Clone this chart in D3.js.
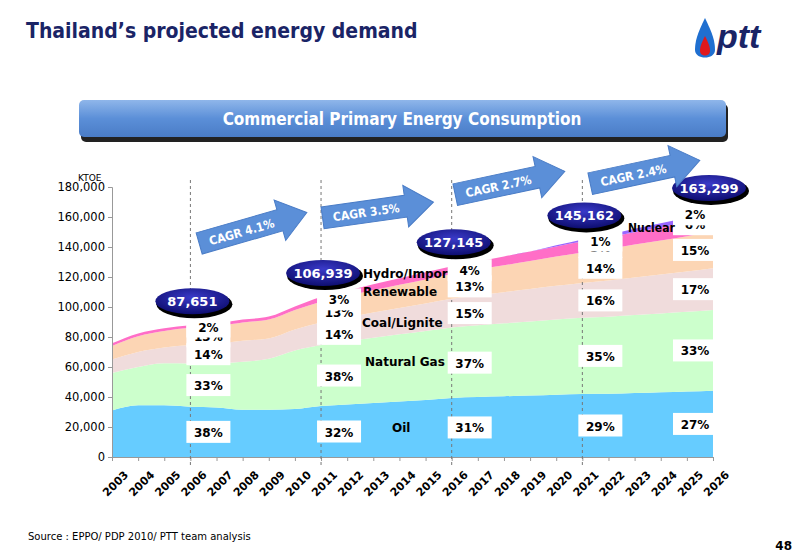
<!DOCTYPE html>
<html><head><meta charset="utf-8">
<script src="https://cdn.jsdelivr.net/npm/d3@7"></script>
<style>body{margin:0;background:#fff}svg{display:block;font-family:Verdana,"DejaVu Sans",sans-serif}</style>
</head><body><svg id="c" width="800" height="554"></svg>
<script>
const years = d3.range(2003, 2027).map(String);
const seriesNames = ['Oil', 'Natural Gas', 'Coal/Lignite', 'Renewable', 'Hydro/Import', 'Nuclear'];
const oil = [31000,34500,34500,33500,33000,31500,31500,32000,34000,35000,36000,37000,38000,39400,40000,40500,41000,41500,42000,42100,42600,43100,43600,44100];
const gas = [25000,25500,28000,28900,29500,32000,34000,39000,40600,42000,43500,44800,46000,47000,47800,48600,49400,50200,50800,51400,52000,52600,53200,53900];
const coal = [9000,10000,10500,12300,13000,14000,13500,14000,15000,16000,16800,17600,18400,19100,20000,20800,21600,22400,23200,24100,25000,25900,26800,27800];
const renewable = [9000,10500,11000,11400,11800,12200,12600,13000,13900,14400,15000,15500,16000,16500,17200,17900,18700,19500,20300,21100,22000,22800,23600,24500];
const hydro = [1800,1900,1900,1750,1800,1900,2000,2400,3200,3500,3900,4300,4700,5100,5500,5900,6300,6800,7300,7800,8300,8800,9300,9800];
const nuclear = [0,0,0,0,0,0,0,0,0,0,0,0,0,0,0,0,0,700,1450,1800,2200,2600,3000,3300];
const markYears = ['2006', '2011', '2016', '2021', '2026'];
const totals = ['87,651', '106,939', '127,145', '145,162', '163,299'];
const shares = [ // per mark year, bottom to top
  ['38%','33%','14%','13%','2%'],
  ['32%','38%','14%','13%','3%'],
  ['31%','37%','15%','13%','4%'],
  ['29%','35%','16%','14%','5%','1%'],
  ['27%','33%','17%','15%','6%','2%']];
const cagrs = ['CAGR 4.1%', 'CAGR  3.5%', 'CAGR 2.7%', 'CAGR 2.4%'];
const yTicks = d3.range(0, 180001, 20000);
const colors = ['#66ccff', '#ccffcc', '#f0dcdc', '#fcd5b4', '#ff6ec7', '#9966ff'];
const cond = '"DejaVu Sans Condensed","DejaVu Sans",sans-serif';

const svg = d3.select('#c');
const defs = svg.append('defs');
const gBan = defs.append('linearGradient').attr('id', 'ban').attr('x1', 0).attr('x2', 0).attr('y1', 0).attr('y2', 1);
gBan.append('stop').attr('offset', 0).attr('stop-color', '#8fb6ea');
gBan.append('stop').attr('offset', 0.5).attr('stop-color', '#5b8fd8');
gBan.append('stop').attr('offset', 1).attr('stop-color', '#4a7cc6');
const gEl = defs.append('radialGradient').attr('id', 'ell').attr('cx', 0.5).attr('cy', 0.35).attr('r', 0.7);
gEl.append('stop').attr('offset', 0).attr('stop-color', '#3a3ac8');
gEl.append('stop').attr('offset', 1).attr('stop-color', '#0a0a6a');

// header
svg.append('text').attr('x', 26).attr('y', 38).attr('font-size', 21).attr('font-weight', 'bold')
  .attr('font-family', cond).attr('fill', '#1a2466').text('Thailand’s projected energy demand');
// logo
const logo = svg.append('g').attr('transform', 'translate(693,0)');
logo.append('path').attr('d', 'M12,18 C4,34 2,42 2,50 C2,60 22,60 22,50 C22,42 20,34 12,18Z').attr('fill', '#1f6fd0');
logo.append('path').attr('d', 'M12,36 C8,44 7,47 7,51 C7,57 17,57 17,51 C17,47 16,44 12,36Z').attr('fill', '#e0181c');
logo.append('text').attr('x', 24).attr('y', 48).attr('font-size', 34).attr('font-weight', 'bold')
  .attr('font-style', 'italic').attr('fill', '#1a2466').attr('font-family', 'Arial,"Liberation Sans"').text('ptt');

// banner
svg.append('rect').attr('x', 81).attr('y', 104).attr('width', 647).attr('height', 38).attr('rx', 5).attr('fill', '#222');
svg.append('rect').attr('x', 79).attr('y', 100).attr('width', 647).attr('height', 37).attr('rx', 5).attr('fill', 'url(#ban)');
svg.append('text').attr('x', 402).attr('y', 125).attr('text-anchor', 'middle').attr('font-size', 17)
  .attr('font-weight', 'bold').attr('font-family', cond).attr('fill', '#fff').text('Commercial Primary Energy Consumption');

const x = d3.scalePoint().domain(years).range([112, 713]);
const y = d3.scaleLinear().domain([0, 180000]).range([457, 187]);

const rows = years.map((yr, i) => ({ year: yr, 'Oil': oil[i], 'Natural Gas': gas[i], 'Coal/Lignite': coal[i],
  'Renewable': renewable[i], 'Hydro/Import': hydro[i], 'Nuclear': nuclear[i] }));
const stack = d3.stack().keys(seriesNames)(rows);
const area = d3.area().x(d => x(d.data.year)).y0(d => y(d[0])).y1(d => y(d[1])).curve(d3.curveMonotoneX);
svg.append('g').selectAll('path').data(stack).join('path').attr('d', area).attr('fill', (d, i) => colors[i]);

// axes
const ya = svg.append('g').attr('transform', 'translate(112,0)')
  .call(d3.axisLeft(y).tickValues(yTicks).tickSize(4).tickFormat(d3.format(',')));
ya.selectAll('text').attr('font-size', 11.5).attr('fill', '#000').attr('font-family', 'Verdana,"DejaVu Sans"');
ya.select('.domain').attr('stroke', '#999');
ya.selectAll('line').attr('stroke', '#999');
const xa = svg.append('g').attr('transform', 'translate(0,457)').call(d3.axisBottom(x).tickSize(4));
xa.select('.domain').attr('stroke', '#999');
xa.selectAll('line').attr('stroke', '#999');
xa.selectAll('text').attr('font-size', 11).attr('font-weight', 'bold').attr('fill', '#000')
  .attr('font-family', 'Verdana,"DejaVu Sans"')
  .attr('text-anchor', 'end').attr('transform', 'translate(6,8) rotate(-45)');
svg.append('text').attr('x', 78).attr('y', 181).attr('font-size', 9).text('KTOE');

// dashed verticals
svg.append('g').selectAll('line').data(markYears.slice(0, 4)).join('line')
  .attr('x1', d => x(d)).attr('x2', d => x(d)).attr('y1', 180).attr('y2', 467)
  .attr('stroke', '#777').attr('stroke-dasharray', '3,3');

// series name labels (Nuclear is drawn on top later)
const nameLab = ['Oil', 'Natural Gas', 'Coal/Lignite', 'Renewable', 'Hydro/Import', 'Nuclear'];
const nameX = [392, 365, 362, 363, 363, 628];
const nameY = [427, 361, 322, 291, 273, 227];
const drawNames = (sel) => sel.append('g').selectAll('text').data(sel === svg ? nameLab : []).join('text');
svg.append('g').selectAll('text').data(nameLab.slice(0, 5)).join('text')
  .attr('x', (d, i) => nameX[i]).attr('y', (d, i) => nameY[i] + 5).attr('font-size', 12).attr('font-weight', 'bold')
  .attr('font-family', 'Verdana,"DejaVu Sans"').text(d => d);

// share boxes
markYears.forEach((yr, k) => {
  const i = years.indexOf(yr);
  const g = svg.append('g');
  shares[k].forEach((s, j) => {
    const p = stack[j][i];
    const cy = y((p[0] + p[1]) / 2);
    const bx = k === 4 ? x(yr) - 40 : x(yr) - 4;
    g.append('rect').attr('x', bx).attr('y', cy - 11).attr('width', 44).attr('height', 22).attr('fill', '#fff');
    g.append('text').attr('x', bx + 22).attr('y', cy + 5).attr('text-anchor', 'middle')
      .attr('font-size', 12).attr('font-weight', 'bold').text(s);
  });
  const cx = k === 4 ? x(yr) - 4 : x(yr) + 2;
  const tot = d3.sum(stack, l => l[i][1] - l[i][0]);
  const cy = y(tot) - 24;
  g.append('ellipse').attr('cx', cx + 2).attr('cy', cy + 3).attr('rx', 38).attr('ry', 14).attr('fill', '#000');
  g.append('ellipse').attr('cx', cx).attr('cy', cy).attr('rx', 37).attr('ry', 13).attr('fill', 'url(#ell)');
  g.append('text').attr('x', cx).attr('y', cy + 5).attr('text-anchor', 'middle').attr('font-size', 13)
    .attr('font-weight', 'bold').attr('fill', '#fff').text(totals[k]);
});

svg.append('text').attr('x', nameX[5]).attr('y', nameY[5] + 5).attr('font-size', 12).attr('font-weight', 'bold')
  .attr('font-family', cond).text(nameLab[5]);

// CAGR arrows
const arrowPos = [[253, 228, -16], [378, 210, -8], [510, 183, -12], [645, 172, -12]];
cagrs.forEach((c, k) => {
  const [ax, ay, rot] = arrowPos[k];
  const g = svg.append('g').attr('transform', `translate(${ax},${ay}) rotate(${rot})`);
  g.append('path').attr('d', 'M-56,-11 L28,-11 L28,-21 L56,0 L28,21 L28,11 L-56,11Z')
    .attr('fill', '#5b8fd8').attr('stroke', '#4a7cc6');
  g.append('text').attr('x', -12).attr('y', 5).attr('text-anchor', 'middle').attr('font-size', 12)
    .attr('font-weight', 'bold').attr('font-family', cond).attr('fill', '#fff').text(c);
});

svg.append('text').attr('x', 28).attr('y', 540).attr('font-size', 10).text('Source : EPPO/ PDP 2010/ PTT team analysis');
svg.append('text').attr('x', 792).attr('y', 550).attr('text-anchor', 'end').attr('font-size', 12)
  .attr('font-weight', 'bold').text('48');
</script></body></html>
